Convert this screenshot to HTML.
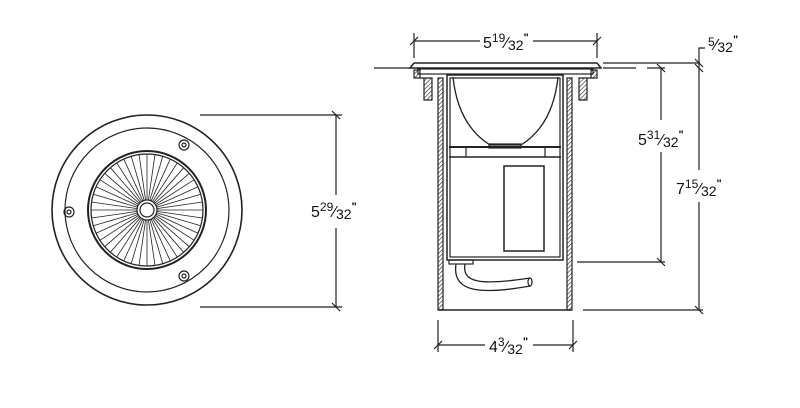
<!DOCTYPE html>
<html><head><meta charset="utf-8"><style>
html,body{margin:0;padding:0;background:#fff;}
svg{display:block;}
text{font-family:"Liberation Sans",sans-serif;fill:#111;}
</style></head><body>
<svg id="s" width="800" height="408" viewBox="0 0 800 408" xmlns="http://www.w3.org/2000/svg">
<defs>
<pattern id="h" width="3" height="3" patternUnits="userSpaceOnUse" patternTransform="rotate(45)">
<line x1="0" y1="0" x2="0" y2="3" stroke="#222" stroke-width="1.2"/></pattern>
</defs>
<g fill="none" stroke="#222" stroke-width="1.2">
<circle cx="147" cy="210" r="95" stroke-width="1.6"/>
<circle cx="147" cy="210" r="82"/>
<circle cx="147" cy="210" r="59" stroke-width="2"/>
<circle cx="147" cy="210" r="56"/>
<g id="spokes" stroke-width="0.8"></g>
<circle cx="147" cy="210" r="10" fill="#fff"/>
<circle cx="147" cy="210" r="7"/>
<circle cx="184" cy="145" r="5"/><circle cx="184" cy="145" r="2"/>
<circle cx="69" cy="212" r="5"/><circle cx="69" cy="212" r="2"/>
<circle cx="184" cy="276" r="5"/><circle cx="184" cy="276" r="2"/>
<line x1="200" y1="115" x2="342" y2="115"/>
<line x1="200" y1="307" x2="342" y2="307"/>
<line x1="336" y1="115" x2="336" y2="195"/>
<line x1="336" y1="228" x2="336" y2="307"/>
<line x1="332" y1="111" x2="340" y2="119"/>
<line x1="332" y1="303" x2="340" y2="311"/>

<line x1="374" y1="68" x2="412" y2="68"/>
<line x1="603" y1="63" x2="700" y2="63"/>
<line x1="603" y1="68" x2="636" y2="68"/>
<line x1="647" y1="68" x2="665" y2="68"/>
<path d="M410 68 L414 63 L597 63 L601 68 Z" stroke-width="1.5"/>
<rect x="418" y="69" width="175" height="5"/>
<path d="M414 70 h6 v8 h12 v22 h-8 v-22 h-10 z" fill="url(#h)"/>
<path d="M597 70 h-6 v8 h-12 v22 h8 v-22 h10 z" fill="url(#h)"/>
<rect x="438" y="78" width="5" height="232" fill="url(#h)"/>
<rect x="567" y="78" width="5" height="232" fill="url(#h)"/>
<line x1="438" y1="310" x2="572" y2="310" stroke-width="1.5"/>
<rect x="447" y="75" width="116" height="185" stroke-width="1.5"/>
<rect x="450" y="78" width="110" height="179"/>
<path d="M453 77 Q458 125 490 145 L521 145 Q553 125 558 77" stroke-width="1.3"/>
<rect x="489" y="144" width="32" height="4"/>
<line x1="449" y1="147" x2="561" y2="147" stroke-width="2"/>
<line x1="449" y1="157" x2="561" y2="157" stroke-width="1.5"/>
<line x1="466" y1="147" x2="466" y2="157"/>
<line x1="545" y1="147" x2="545" y2="157"/>
<rect x="504" y="166" width="40" height="85" stroke-width="1.5"/>
<rect x="449" y="260" width="24" height="4"/>
<path d="M456 264 C452 290 475 296 530 286 M465 264 C462 282 478 286 530 278" stroke-width="1.3"/>
<ellipse cx="530" cy="282" rx="2" ry="4"/>
<line x1="414" y1="33" x2="414" y2="58"/><line x1="597" y1="33" x2="597" y2="58"/>
<line x1="414" y1="41" x2="480" y2="41"/><line x1="533" y1="41" x2="597" y2="41"/>
<line x1="410" y1="45" x2="418" y2="37"/><line x1="593" y1="45" x2="601" y2="37"/>
<line x1="438" y1="320" x2="438" y2="352"/><line x1="573" y1="320" x2="573" y2="352"/>
<line x1="438" y1="345" x2="485" y2="345"/><line x1="533" y1="345" x2="573" y2="345"/>
<line x1="434" y1="349" x2="442" y2="341"/><line x1="569" y1="349" x2="577" y2="341"/>
<line x1="577" y1="262" x2="665" y2="262"/>
<line x1="583" y1="310" x2="703" y2="310"/>
<line x1="661" y1="68" x2="661" y2="120"/><line x1="661" y1="152" x2="661" y2="262"/>
<line x1="657" y1="64" x2="665" y2="72"/><line x1="657" y1="258" x2="665" y2="266"/>
<line x1="699" y1="63" x2="699" y2="170"/><line x1="699" y1="202" x2="699" y2="310"/>
<line x1="695" y1="306" x2="703" y2="314"/>
<line x1="695" y1="59" x2="703" y2="67"/><line x1="695" y1="64" x2="703" y2="72"/>
<path d="M699 63 V48 H705"/>
</g>
<g font-size="16">
<text x="483" y="48">5<tspan font-size="12" dy="-6">19</tspan><tspan dy="6">⁄</tspan><tspan font-size="14" dy="2">32</tspan><tspan font-size="11" font-weight="bold" dy="-9">"</tspan></text>
<text x="489" y="352">4<tspan font-size="12" dy="-6">3</tspan><tspan dy="6">⁄</tspan><tspan font-size="14" dy="2">32</tspan><tspan font-size="11" font-weight="bold" dy="-9">"</tspan></text>
<text x="311" y="217">5<tspan font-size="12" dy="-6">29</tspan><tspan dy="6">⁄</tspan><tspan font-size="14" dy="2">32</tspan><tspan font-size="11" font-weight="bold" dy="-9">"</tspan></text>
<text x="638" y="145">5<tspan font-size="12" dy="-6">31</tspan><tspan dy="6">⁄</tspan><tspan font-size="14" dy="2">32</tspan><tspan font-size="11" font-weight="bold" dy="-9">"</tspan></text>
<text x="676" y="194">7<tspan font-size="12" dy="-6">15</tspan><tspan dy="6">⁄</tspan><tspan font-size="14" dy="2">32</tspan><tspan font-size="11" font-weight="bold" dy="-9">"</tspan></text>
<text x="708" y="50"><tspan font-size="12" dy="-4">5</tspan><tspan dy="4">⁄</tspan><tspan font-size="14" dy="2">32</tspan><tspan font-size="11" font-weight="bold" dy="-9">"</tspan></text>
</g>
</svg>
<script>
var g=document.getElementById('spokes'),n=44;
for(var i=0;i<n;i++){var a=i*2*Math.PI/n,l=document.createElementNS('http://www.w3.org/2000/svg','line');
l.setAttribute('x1',147+9*Math.cos(a));l.setAttribute('y1',210+9*Math.sin(a));
l.setAttribute('x2',147+56*Math.cos(a));l.setAttribute('y2',210+56*Math.sin(a));g.appendChild(l);}
</script>
</body></html>
